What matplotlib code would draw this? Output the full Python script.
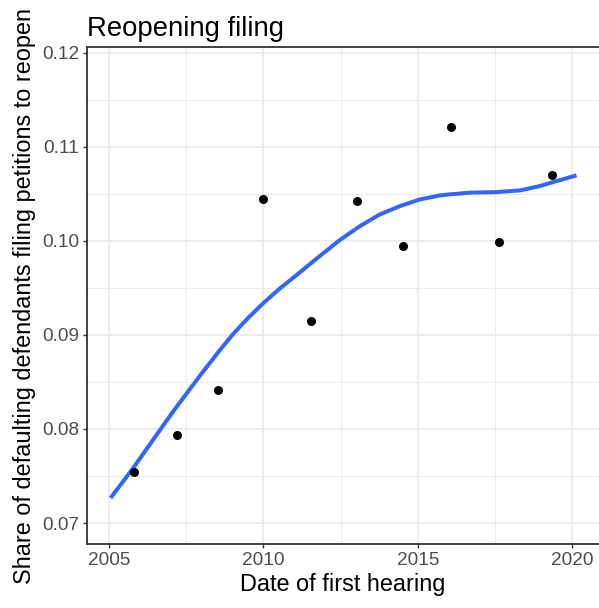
import matplotlib
matplotlib.use("Agg")
import matplotlib.pyplot as plt
from matplotlib.ticker import MultipleLocator

# =========================
# DATA
# =========================
YEARS = [2005.82, 2007.21, 2008.54, 2010.00, 2011.53,
         2013.03, 2014.53, 2016.08, 2017.62, 2019.36]
SHARE = [0.0754, 0.0794, 0.0841, 0.1044, 0.0915,
         0.1042, 0.0994, 0.1121, 0.0999, 0.1070]

# smoothed trend line
SMOOTH_X = [2005.055, 2005.787, 2006.434, 2007.082, 2008.001, 2008.593,
            2009.024, 2009.458, 2009.995, 2010.536, 2011.076, 2011.452,
            2011.831, 2012.478, 2013.126, 2013.773, 2014.421, 2015.068,
            2015.716, 2016.039, 2016.687, 2017.551, 2018.305, 2018.953,
            2019.493, 2020.141]
SMOOTH_Y = [0.07266, 0.07585, 0.07886, 0.08187, 0.08589, 0.08838,
            0.09009, 0.09163, 0.09336, 0.09493, 0.09635, 0.09737,
            0.09838, 0.10008, 0.10155, 0.10280, 0.10368, 0.10439,
            0.10482, 0.10493, 0.10511, 0.10517, 0.10535, 0.10581,
            0.10634, 0.10695]

X_TICKS = [2005, 2010, 2015, 2020]
Y_TICKS = [0.07, 0.08, 0.09, 0.10, 0.11, 0.12]

TITLE = "Reopening filing"
X_LABEL = "Date of first hearing"
Y_LABEL = "Share of defaulting defendants filing petitions to reopen"

# =========================
# STYLE
# =========================
plt.rcParams["font.family"] = ["Liberation Sans", "DejaVu Sans"]
DARK = "#333333"
GRID = "#EBEBEB"

fig = plt.figure(figsize=(5.99, 6.08), dpi=100)
ax = fig.add_axes([0.1452, 0.1057, 0.8548, 0.8165])

ax.plot(SMOOTH_X, SMOOTH_Y, color="#3366FF", lw=2.9, zorder=3,
        solid_capstyle="butt", solid_joinstyle="round")
ax.scatter(YEARS, SHARE, s=42, color="black", zorder=4, linewidths=0)

ax.set_xlim(2004.29, 2020.87)
ax.set_ylim(0.0678, 0.12056)

ax.set_xticks(X_TICKS)
ax.set_yticks(Y_TICKS)
ax.set_xticklabels([str(t) for t in X_TICKS])
ax.set_yticklabels([f"{t:.2f}" for t in Y_TICKS])
ax.xaxis.set_minor_locator(MultipleLocator(2.5))
ax.yaxis.set_minor_locator(MultipleLocator(0.005))

ax.grid(which="major", color=GRID, lw=1.3, zorder=0)
ax.grid(which="minor", color=GRID, lw=0.7, zorder=0)
ax.set_axisbelow(True)

ax.tick_params(which="major", length=3.2, width=1.0, color=DARK,
               labelsize=13.7, labelcolor="#4D4D4D", pad=2.5)
ax.tick_params(which="minor", length=0)

for side in ["left", "top", "bottom"]:
    ax.spines[side].set_color(DARK)
    ax.spines[side].set_linewidth(1.3)
ax.spines["right"].set_visible(False)

ax.set_title(TITLE, loc="left", fontsize=19.8, pad=8, x=0.0)
ax.set_xlabel(X_LABEL, fontsize=16.9, labelpad=3)
ax.set_ylabel(Y_LABEL, fontsize=16.9, labelpad=4)

fig.savefig("out.png", dpi=100)
